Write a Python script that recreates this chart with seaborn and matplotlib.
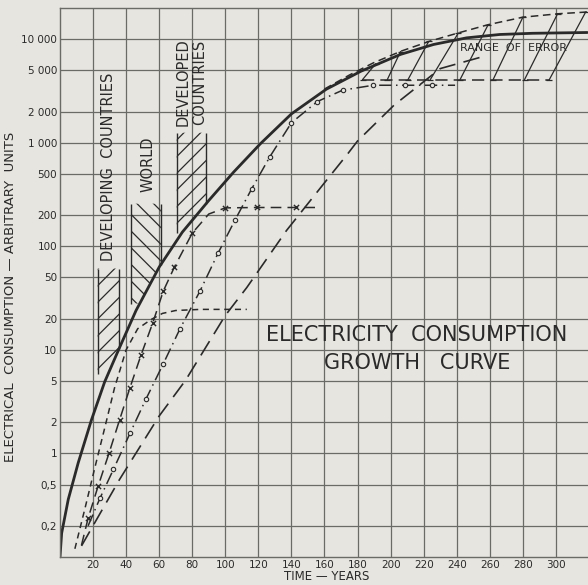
import numpy as np
import pandas as pd
import seaborn as sns
import matplotlib.pyplot as plt
from matplotlib.ticker import NullLocator

# ---- data (t in years, consumption in arbitrary units) ----
solid_t = [0, 1, 5, 11, 19, 27, 36, 46, 60, 74, 90, 105, 121, 140, 161, 182, 206, 226, 246, 266, 286, 319]
solid_v = [0.1, 0.17, 0.36, 0.81, 2.1, 4.9, 10.5, 24, 63, 137, 277, 520, 970, 1900, 3280, 4900,
           7130, 8890, 10300, 11100, 11400, 11600]

dev_t = [9, 15, 21, 27, 33, 40, 47, 55, 62, 70, 85, 113]
dev_v = [0.12, 0.29, 0.72, 1.75, 4.3, 10, 16, 19.6, 22.5, 24, 24.6, 24.6]

xc_t = [13, 17, 23, 29.6, 36, 42.3, 49, 56, 62.5, 69.2, 80, 90, 100, 119, 143, 157]
xc_v = [0.13, 0.237, 0.48, 1.0, 2.1, 4.3, 8.9, 18, 37, 63, 134, 205, 235, 237, 237, 237]
xc_mark_t = [17, 23, 29.6, 36, 42.3, 49, 56, 62.5, 69.2, 80, 100, 119, 143]
xc_mark_v = [0.237, 0.48, 1.0, 2.1, 4.3, 8.9, 18, 37, 63, 134, 235, 237, 237]

oc_t = [17, 24.2, 32.3, 42.3, 52, 62.5, 72.6, 84.7, 95.8, 106, 116, 127, 140, 155.7, 171, 189.5, 208.7, 225, 239]
oc_v = [0.2, 0.37, 0.70, 1.56, 3.35, 7.35, 16, 37, 87, 181, 360, 735, 1560, 2500, 3220, 3590, 3590, 3590, 3590]

lc_t = [13, 36, 60, 76, 100, 113, 137, 161, 174, 180, 202, 230, 256]
lc_v = [0.128, 0.56, 2.3, 5.1, 21.5, 40, 142, 430, 780, 1040, 2300, 5200, 6800]

up_t = [160, 175, 189.5, 206.7, 224, 241, 259, 280, 301.5, 319]
up_v = [3300, 4500, 5900, 7700, 9600, 11500, 13800, 16300, 17600, 18300]
lo_t = [182.5, 296.4]
lo_v = [4070, 4070]

err_t0 = [183, 198, 210.5, 224, 242, 262, 281, 296]
err_t1 = [191, 206, 223, 241, 259, 280, 301, 318]
err_top = [5800, 7600, 9500, 11500, 13800, 16300, 17600, 18300]

box_names = ['DEVELOPING  COUNTRIES', 'WORLD', 'DEVELOPED\nCOUNTRIES']
box_t0 = [22.8, 43, 70.6]
box_t1 = [35.7, 61, 88.3]
box_lo = [5.9, 28, 133]
box_hi = [61, 258, 1250]
box_hatch = ['//', '\\\\', '//']
box_label_t = [29.6, 53.2, 79.5]
box_label_v = [590, 615, 3860]

xticks = list(range(20, 301, 20))
yticks = [0.2, 0.5, 1, 2, 5, 10, 20, 50, 100, 200, 500, 1000, 2000, 5000, 10000]
ylabels = ['0,2', '0,5', '1', '2', '5', '10', '20', '50', '100', '200', '500',
           '1 000', '2 000', '5 000', '10 000']

paper = '#e7e5df'
ink = '#2a2a2a'
gridc = '#6a6a66'

sns.set_theme(style='white', rc={'figure.facecolor': paper, 'axes.facecolor': paper,
                                 'hatch.color': ink, 'hatch.linewidth': 0.9})
plt.rcParams['font.family'] = ['DejaVu Sans']

fig = plt.figure(figsize=(5.88, 5.85), dpi=100)
ax = fig.add_axes([60 / 588, 28 / 585, 528 / 588, 549 / 585])

# curves
sns.lineplot(x=solid_t, y=solid_v, ax=ax, color=ink, lw=2.0)
sns.lineplot(x=dev_t, y=dev_v, ax=ax, color=ink, lw=1.1, linestyle=(0, (4, 3)))
sns.lineplot(x=xc_t, y=xc_v, ax=ax, color=ink, lw=1.1, linestyle=(0, (7, 4)))
sns.scatterplot(x=xc_mark_t, y=xc_mark_v, ax=ax, color=ink, marker='x', s=14, linewidth=1.0)
sns.lineplot(x=oc_t, y=oc_v, ax=ax, color=ink, lw=1.1, linestyle=(0, (8, 3, 1, 3)))
sns.scatterplot(x=oc_t[1:-1], y=oc_v[1:-1], ax=ax, marker='o', s=10,
                facecolor=paper, edgecolor=ink, linewidth=0.8, zorder=5)
sns.lineplot(x=lc_t, y=lc_v, ax=ax, color=ink, lw=1.2, linestyle=(0, (10, 5)))
sns.lineplot(x=up_t, y=up_v, ax=ax, color=ink, lw=1.1, linestyle=(0, (5, 3)))
sns.lineplot(x=lo_t, y=lo_v, ax=ax, color=ink, lw=1.1, linestyle=(0, (8, 4)))

# range of error ticks
for t0, t1, top in zip(err_t0, err_t1, err_top):
    ax.plot([t0, t1], [lo_v[0], top], color=ink, lw=0.9, marker='_', ms=5, mew=0.9)

ax.set_yscale('log')


def solid_at(t):
    return 10 ** np.interp(t, solid_t, np.log10(solid_v))


# hatched bands
for name, t0, t1, lo, hi, h, lt, lv in zip(box_names, box_t0, box_t1, box_lo, box_hi,
                                           box_hatch, box_label_t, box_label_v):
    tt = np.linspace(t0, t1, 60)
    bottom = np.maximum(lo, solid_at(tt))
    ax.fill_between(tt, bottom, hi, facecolor='none', edgecolor=ink, hatch=h, linewidth=0)
    ax.vlines([t0, t1], [bottom[0], bottom[-1]], hi, color=ink, lw=1.0)
    ax.text(lt, lv, name, rotation=90, ha='center', va='center', fontsize=10.5,
            color=ink, linespacing=1.05)

ax.text(242, 8190, 'RANGE  OF  ERROR', fontsize=8, color=ink, ha='left', va='center')
ax.text(216, 13.9, 'ELECTRICITY  CONSUMPTION', fontsize=15, color=ink, ha='center', va='center')
ax.text(216, 7.5, 'GROWTH   CURVE', fontsize=15, color=ink, ha='center', va='center')

ax.set_xlim(0, 319.4)
ax.set_ylim(0.1, 20000)
ax.set_xticks(xticks)
ax.set_xticklabels([str(v) for v in xticks])
ax.set_yticks(yticks)
ax.set_yticklabels(ylabels)
ax.yaxis.set_minor_locator(NullLocator())
ax.tick_params(length=0, labelsize=7.5, labelcolor=ink, pad=2)
ax.grid(True, color=gridc, lw=0.9)
ax.set_axisbelow(True)
for side in ['left', 'top', 'bottom']:
    ax.spines[side].set_color(gridc)
    ax.spines[side].set_linewidth(1.0)
ax.spines['right'].set_visible(False)
ax.set_xlabel('')
ax.set_ylabel('')

fig.text(327 / 588, 1 - 577 / 585, 'TIME — YEARS', fontsize=8.5, color=ink, ha='center', va='center')
fig.text(11 / 588, 1 - 297 / 585, 'ELECTRICAL  CONSUMPTION — ARBITRARY  UNITS', fontsize=9.5,
         color=ink, rotation=90, ha='center', va='center')

fig.savefig('out.png', dpi=100, facecolor=paper)
